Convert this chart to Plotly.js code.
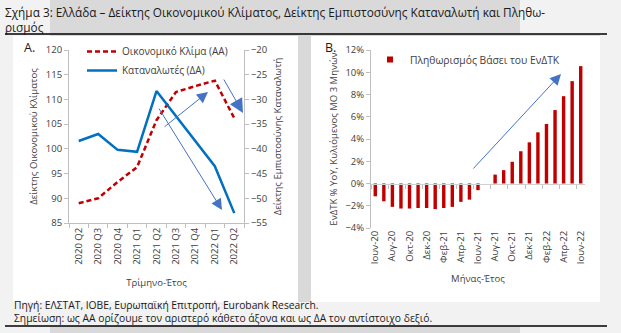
<!DOCTYPE html>
<html>
<head>
<meta charset="utf-8">
<script src="https://cdn.plot.ly/plotly-3.0.1.min.js"></script>
<style>
html,body{margin:0;padding:0;background:#f2f2f2;}
#chart{width:621px;height:333px;}
</style>
</head>
<body>
<div id="chart"></div>
<script>
// ---- Data ----
const quarters = ['2020 Q2','2020 Q3','2020 Q4','2021 Q1','2021 Q2','2021 Q3','2021 Q4','2022 Q1','2022 Q2'];
const economicClimate = [89.0, 90.0, 93.3, 96.3, 105.8, 111.5, 112.7, 113.8, 106.2];
const consumerConfidence = [-38.4, -37.0, -40.2, -40.6, -28.3, -33.4, -38.5, -43.5, -53.0];

const months = ['Ιουν-20','Ιουλ-20','Αυγ-20','Σεπ-20','Οκτ-20','Νοε-20','Δεκ-20','Ιαν-21','Φεβ-21','Μαρ-21','Απρ-21','Μαϊ-21','Ιουν-21','Ιουλ-21','Αυγ-21','Σεπ-21','Οκτ-21','Νοε-21','Δεκ-21','Ιαν-22','Φεβ-22','Μαρ-22','Απρ-22','Μαϊ-22','Ιουν-22'];
const inflation = [-1.15,-1.6,-2.1,-2.25,-2.25,-2.2,-2.2,-2.3,-2.2,-2.1,-1.65,-1.45,-0.6,0.0,0.8,1.2,1.95,2.9,3.7,4.6,5.35,6.6,7.85,9.2,10.55];

const seriesNames = ['Οικονομικό Κλίμα (ΑΑ)','Καταναλωτές (ΔΑ)','Πληθωρισμός Βάσει του ΕνΔΤΚ'];

// ---- Layout helpers ----
const W = 621, H = 333;
const px = x => x / W;
const py = y => 1 - y / H;
const FONT = 'Open Sans, Noto Sans, sans-serif';
const RED = '#c00000', BLUE = '#0070c0', ARROW = '#4472c4';
const AXC = '#bfbfbf', TXT = '#404040';

const yA = [py(223), py(50)];
const yB = [py(228), py(50)];
const bRange = [-4, 12];
const zeroPos = yB[0] + (0 - bRange[0]) / (bRange[1] - bRange[0]) * (yB[1] - yB[0]);

const traces = [
  {type:'scatter', mode:'lines', x:quarters, y:economicClimate, name:seriesNames[0],
   xaxis:'x', yaxis:'y', legend:'legend',
   line:{color:RED, width:2.5, dash:'5px,3px'}},
  {type:'scatter', mode:'lines', x:quarters, y:consumerConfidence, name:seriesNames[1],
   xaxis:'x', yaxis:'y2', legend:'legend',
   line:{color:BLUE, width:2.5}},
  {type:'bar', x:months, y:inflation, name:seriesNames[2], xaxis:'x2', yaxis:'y3',
   marker:{color:RED}, showlegend:false},
  {type:'scatter', mode:'markers', x:[null], y:[null], name:seriesNames[2], xaxis:'x2', yaxis:'y3',
   legend:'legend2', marker:{symbol:'square', size:6, color:RED}},
  {type:'scatter', mode:'markers', x:months, y:inflation, xaxis:'x3', yaxis:'y3',
   marker:{opacity:0}, hoverinfo:'skip', showlegend:false}
];

const tickFont = {family:FONT, size:9.5, color:TXT};
const titleFont = {family:FONT, size:9.5, color:TXT};

const layout = {
  width:W, height:H, autosize:false,
  margin:{l:0, r:0, t:0, b:0, pad:0},
  paper_bgcolor:'#f2f2f2', plot_bgcolor:'rgba(0,0,0,0)',
  font:{family:FONT, color:TXT},
  bargap:0.6,
  showlegend:true,
  xaxis:{domain:[px(69), px(244)], anchor:'y', type:'category', range:[-0.5, 8.5],
    showline:true, linecolor:AXC, linewidth:1, ticks:'outside', ticklen:4, tickcolor:AXC,
    tickson:'boundaries', tickangle:-90, tickfont:tickFont, showgrid:false,
    title:{text:'Τρίμηνο-Έτος', font:titleFont, standoff:15}},
  yaxis:{domain:yA, anchor:'x', range:[85,120], dtick:5, showline:true, linecolor:AXC,
    ticks:'outside', ticklen:4, tickcolor:AXC, tickfont:tickFont, showgrid:false, zeroline:false,
    title:{text:'Δείκτης Οικονομικού Κλίματος', font:titleFont, standoff:6}},
  yaxis2:{domain:yA, anchor:'x', overlaying:'y', side:'right', range:[-55,-20], dtick:5,
    showline:true, linecolor:AXC, ticks:'outside', ticklen:4, tickcolor:AXC, tickfont:tickFont,
    showgrid:false, zeroline:false,
    title:{text:'Δείκτης Εμπιστοσύνης Καταναλωτή', font:titleFont, standoff:8}},
  xaxis2:{domain:[px(371), px(585)], anchor:'y3', type:'category', range:[-0.5, 24.5],
    showline:false, ticks:'', tickmode:'linear', tick0:0, dtick:2, tickangle:-90,
    tickfont:tickFont, showgrid:false,
    title:{text:'Μήνας-Έτος', font:titleFont, standoff:12}},
  xaxis3:{domain:[px(371), px(585)], overlaying:'x2', anchor:'free', position:zeroPos,
    type:'category', range:[-0.5, 24.5], showline:true, linecolor:'#d0d0d0', linewidth:1.5,
    ticks:'outside', ticklen:4, tickcolor:AXC, tickson:'boundaries', tickmode:'linear', tick0:0, dtick:2,
    showticklabels:false, showgrid:false},
  yaxis3:{domain:yB, anchor:'x2', range:bRange, dtick:2, ticksuffix:'%', showline:true,
    linecolor:AXC, ticks:'outside', ticklen:4, tickcolor:AXC, tickfont:tickFont,
    showgrid:false, zeroline:false,
    title:{text:'ΕνΔΤΚ % YoY, Κυλιόμενος ΜΟ 3 Μηνών', font:titleFont, standoff:6}},
  legend:{x:px(82), y:py(37), xanchor:'left', yanchor:'top', bgcolor:'rgba(0,0,0,0)',
    font:{family:FONT, size:10, color:TXT}, tracegroupgap:0},
  legend2:{x:px(370), y:py(45), xanchor:'left', yanchor:'top', bgcolor:'rgba(0,0,0,0)',
    font:{family:FONT, size:10.3, color:TXT}, itemwidth:30},
  shapes:[
    {type:'rect', xref:'paper', yref:'paper', x0:px(50), x1:px(520), y0:py(34), y1:py(0), fillcolor:'#d9d9d9', line:{width:0}, layer:'below'},
    {type:'rect', xref:'paper', yref:'paper', x0:px(50), x1:px(600), y0:py(302), y1:py(34), fillcolor:'#d9d9d9', line:{width:0}, layer:'below'},
    {type:'rect', xref:'paper', yref:'paper', x0:px(50), x1:px(520), y0:py(333), y1:py(326), fillcolor:'#d9d9d9', line:{width:0}, layer:'below'},
    {type:'rect', xref:'paper', yref:'paper', x0:px(13), x1:px(298), y0:py(302), y1:py(36), fillcolor:'#ffffff', line:{width:0}, layer:'below'},
    {type:'rect', xref:'paper', yref:'paper', x0:px(311), x1:px(600), y0:py(302), y1:py(36), fillcolor:'#ffffff', line:{width:0}, layer:'below'},
    {type:'line', xref:'paper', yref:'paper', x0:px(5), x1:px(607), y0:py(34), y1:py(34), line:{color:'#000000', width:1.5}},
    {type:'line', xref:'paper', yref:'paper', x0:px(5), x1:px(607), y0:py(326), y1:py(326), line:{color:'#000000', width:1.5}}
  ],
  annotations:[
    {xref:'paper', yref:'paper', x:px(3), y:py(2), xanchor:'left', yanchor:'top', align:'left', showarrow:false,
     text:'Σχήμα 3: Ελλάδα – Δείκτης Οικονομικού Κλίματος, Δείκτης Εμπιστοσύνης Καταναλωτή και Πληθω-<br>ρισμός',
     font:{family:FONT, size:11.8, color:'#1a1a1a'}},
    {xref:'paper', yref:'paper', x:px(22), y:py(47), xanchor:'left', yanchor:'middle', showarrow:false,
     text:'A.', font:{family:FONT, size:12.5, color:'#1a1a1a'}},
    {xref:'paper', yref:'paper', x:px(323), y:py(47), xanchor:'left', yanchor:'middle', showarrow:false,
     text:'B.', font:{family:FONT, size:12.5, color:'#1a1a1a'}},
    {xref:'paper', yref:'paper', x:px(12), y:py(311.5), xanchor:'left', yanchor:'middle', align:'left', showarrow:false,
     text:'Πηγή: ΕΛΣΤΑΤ, ΙΟΒΕ, Ευρωπαϊκή Επιτροπή, Eurobank Research.<br>Σημείωση: ως ΑΑ ορίζουμε τον αριστερό κάθετο άξονα και ως ΔΑ τον αντίστοιχο δεξιό.',
     font:{family:FONT, size:10.3, color:'#1a1a1a'}},
    // trend arrows
    {xref:'paper', yref:'paper', x:px(208), y:py(92), ax:-45, ay:36, text:'', showarrow:true,
     arrowhead:2, arrowsize:2.2, arrowwidth:1, arrowcolor:ARROW, standoff:0},
    {xref:'paper', yref:'paper', x:px(222), y:py(210), ax:-64, ay:-103, text:'', showarrow:true,
     arrowhead:2, arrowsize:2.2, arrowwidth:1, arrowcolor:ARROW, standoff:0},
    {xref:'paper', yref:'paper', x:px(243), y:py(113), ax:-20, ay:-35, text:'', showarrow:true,
     arrowhead:2, arrowsize:2.8, arrowwidth:1, arrowcolor:ARROW, standoff:0},
    {xref:'paper', yref:'paper', x:px(561), y:py(74), ax:-89, ay:96, text:'', showarrow:true,
     arrowhead:2, arrowsize:2.2, arrowwidth:1, arrowcolor:ARROW, standoff:0}
  ]
};

Plotly.newPlot('chart', traces, layout, {displayModeBar:false, staticPlot:true});
</script>
</body>
</html>
